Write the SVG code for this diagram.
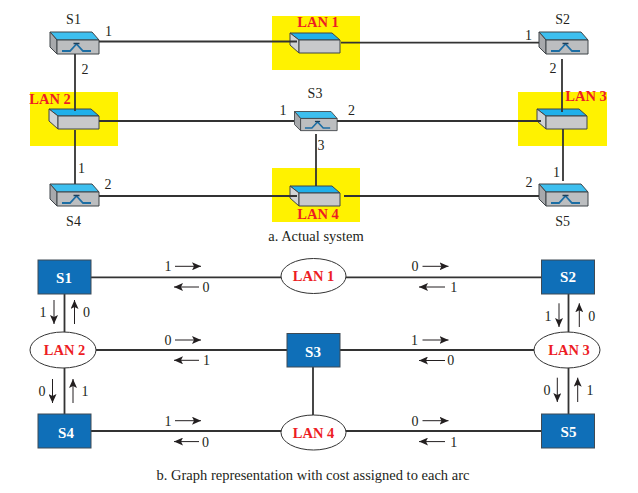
<svg xmlns="http://www.w3.org/2000/svg" width="638" height="493" viewBox="0 0 638 493">
<style>
text{font-family:"Liberation Serif","Times New Roman",serif;fill:#231f20;font-size:14px;text-anchor:middle}
.lan{fill:#ed1c24;font-weight:bold;font-size:14.500px}
.sw{fill:#fff;font-weight:bold;font-size:15px}
.cap{font-size:14.500px}
.y{fill:#fff200}
.b{fill:#0f6fb8;stroke:#3f4a54;stroke-width:1}
.e{fill:#fff;stroke:#333;stroke-width:1}
.l{stroke:#333;stroke-width:1.800;fill:none}
.a{stroke:#231f20;stroke-width:1;fill:none;marker-end:url(#ah)}
.o{stroke:#3f4448;stroke-width:1;stroke-linejoin:round}
</style>
<defs>
<marker id="ah" markerUnits="userSpaceOnUse" markerWidth="10" markerHeight="8" refX="9" refY="4" orient="auto"><path d="M0 0L9 4L0 8L2 4Z" fill="#231f20"/></marker>
<g id="switch">
<path class="o" d="M0 0H42L49 8H7Z" fill="#3dbfef"/>
<path class="o" d="M0 0L7 8V22L0 15Z" fill="#a7a9ac"/>
<path class="o" d="M7 8H49V22H7Z" fill="#bcbec0"/>
<path d="M12 19H20L26.500 12L33 19H41" fill="none" stroke="#1c6ea4" stroke-width="1.800"/>
<path d="M23.500 11.500H29.500" fill="none" stroke="#1c3f5a" stroke-width="1.500"/>
</g>
<g id="hub">
<path class="o" d="M0 0H42L50 7H9Z" fill="#1fb0ea"/>
<path class="o" d="M0 0L9 7V20L0 12Z" fill="#d1d3d4"/>
<path class="o" d="M9 7H50V20H9Z" fill="#c8c9cb"/>
</g>
</defs>
<rect width="638" height="493" fill="#fff"/>
<g id="lan1-area"><rect class="y" x="272" y="16" width="88" height="54"/><use href="#hub" x="290" y="33"/><text class="lan" x="318" y="27">LAN 1</text></g>
<g id="lan2-area"><rect class="y" x="30" y="92" width="88" height="54"/><use href="#hub" x="49" y="109"/><text class="lan" x="50" y="104">LAN 2</text></g>
<g id="lan3-area"><rect class="y" x="518" y="92" width="89" height="54"/><use href="#hub" x="537" y="109"/><text class="lan" x="586" y="101">LAN 3</text></g>
<g id="lan4-area"><rect class="y" x="272" y="168" width="88" height="54"/><use href="#hub" x="290" y="186"/><text class="lan" x="318" y="219">LAN 4</text></g>
<g id="s1"><use href="#switch" x="50" y="32"/><text x="73.500" y="24">S1</text></g>
<g id="s2"><use href="#switch" x="539" y="32"/><text x="562.700" y="24">S2</text></g>
<g id="s3"><use href="#switch" transform="translate(294.500 111.500) scale(.87)"/><text x="315" y="98">S3</text></g>
<g id="s4"><use href="#switch" x="50" y="184"/><text x="73.500" y="226">S4</text></g>
<g id="s5"><use href="#switch" x="539" y="184"/><text x="562.700" y="226">S5</text></g>
<g id="connectors-a">
<path class="l" d="M99 41.500H297M341 42.700H539M75 54V111M99 121H294M75 130V184M99 196H297M316 134V186M337 121H541M562 59V112M563 129V181M344 196H539"/>
</g>
<g id="port-labels">
<text x="108.500" y="36">1</text><text x="85" y="74">2</text><text x="81.500" y="173">1</text><text x="108" y="189">2</text>
<text x="283" y="115">1</text><text x="351.500" y="115">2</text><text x="321" y="150">3</text>
<text x="528.500" y="40">1</text><text x="553" y="73">2</text><text x="556.500" y="177">1</text><text x="529" y="187">2</text>
</g>
<text class="cap" x="316" y="241">a. Actual system</text>
<g id="connectors-b">
<path class="l" d="M91 277.300H281M346 277.300H541.500M96 350H287M340 350H534M91 431H281M346 431H541.500M64.500 294V332M64.500 368V414M568.500 294V332M568.500 368V414M313 367V415"/>
</g>
<g id="node-s1"><rect class="b" x="38" y="260" width="53" height="34"/><text class="sw" x="64" y="283">S1</text></g>
<g id="node-s2"><rect class="b" x="541.500" y="260" width="53" height="34"/><text class="sw" x="568" y="282">S2</text></g>
<g id="node-s3"><rect class="b" x="287" y="333.500" width="53" height="33.500"/><text class="sw" x="313" y="357">S3</text></g>
<g id="node-s4"><rect class="b" x="38" y="414" width="53" height="34"/><text class="sw" x="66" y="438">S4</text></g>
<g id="node-s5"><rect class="b" x="541.500" y="414" width="53" height="34"/><text class="sw" x="568.500" y="437">S5</text></g>
<g id="node-lan1"><ellipse class="e" cx="313.500" cy="276" rx="32.500" ry="17.500"/><text class="lan" x="313.500" y="281">LAN 1</text></g>
<g id="node-lan2"><ellipse class="e" cx="63" cy="350" rx="33" ry="18"/><text class="lan" x="64.500" y="355">LAN 2</text></g>
<g id="node-lan3"><ellipse class="e" cx="567" cy="350" rx="33" ry="18"/><text class="lan" x="569" y="355">LAN 3</text></g>
<g id="node-lan4"><ellipse class="e" cx="313.500" cy="432.500" rx="32.500" ry="17.500"/><text class="lan" x="313.500" y="438">LAN 4</text></g>
<g id="cost-arrows">
<path class="a" d="M175 266.300H201"/><path class="a" d="M199 287H174"/>
<path class="a" d="M175 340H201"/><path class="a" d="M199 360.300H174"/>
<path class="a" d="M175 420.700H201"/><path class="a" d="M199 441.600H174"/>
<path class="a" d="M422.500 266.300H448.500"/><path class="a" d="M445 287H419"/>
<path class="a" d="M422.500 340H448.500"/><path class="a" d="M445 360.500H419"/>
<path class="a" d="M422.500 420.700H448.500"/><path class="a" d="M445 441.600H419"/>
<path class="a" d="M54 300V324"/><path class="a" d="M74.500 324V300"/>
<path class="a" d="M52.500 379V403"/><path class="a" d="M73 403V379"/>
<path class="a" d="M559 303.300V327"/><path class="a" d="M579.300 327V303.300"/>
<path class="a" d="M557.300 377.700V402"/><path class="a" d="M577.700 402V377.700"/>
</g>
<g id="cost-labels">
<text x="168" y="271">1</text><text x="206" y="292">0</text>
<text x="168" y="345">0</text><text x="206.500" y="365">1</text>
<text x="168" y="426">1</text><text x="205.500" y="447">0</text>
<text x="415" y="271">0</text><text x="453.700" y="292">1</text>
<text x="414.500" y="345">1</text><text x="450.700" y="365">0</text>
<text x="415" y="426">0</text><text x="453.700" y="447">1</text>
<text x="43" y="317">1</text><text x="86.500" y="317">0</text>
<text x="42" y="396">0</text><text x="85" y="396">1</text>
<text x="548" y="320.500">1</text><text x="591.700" y="320.500">0</text>
<text x="547" y="395">0</text><text x="590" y="395">1</text>
</g>
<text class="cap" x="313" y="480">b. Graph representation with cost assigned to each arc</text>
</svg>
